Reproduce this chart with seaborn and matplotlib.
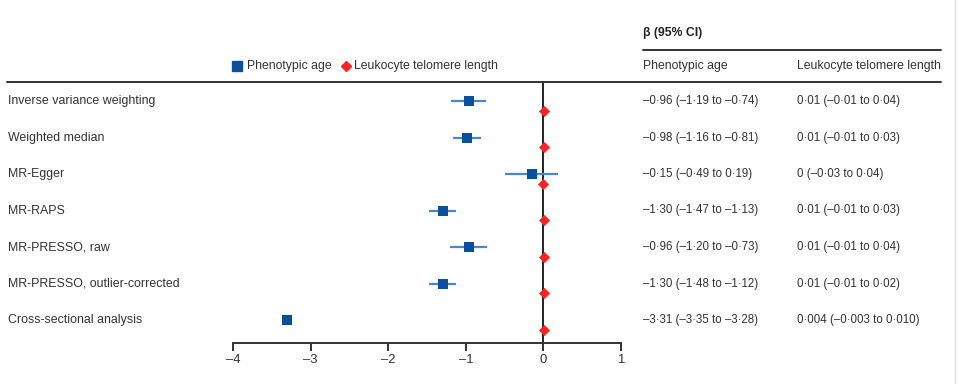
import matplotlib
matplotlib.use("Agg")
import matplotlib.pyplot as plt
import seaborn as sns
import pandas as pd
import numpy as np

methods = ["Inverse variance weighting", "Weighted median", "MR-Egger", "MR-RAPS",
           "MR-PRESSO, raw", "MR-PRESSO, outlier-corrected", "Cross-sectional analysis"]
pheno_est = [-0.96, -0.98, -0.15, -1.30, -0.96, -1.30, -3.31]
pheno_lo = [-1.19, -1.16, -0.49, -1.47, -1.20, -1.48, -3.35]
pheno_hi = [-0.74, -0.81, 0.19, -1.13, -0.73, -1.12, -3.28]
telo_est = [0.01, 0.01, 0.0, 0.01, 0.01, 0.01, 0.004]
telo_lo = [-0.01, -0.01, -0.03, -0.01, -0.01, -0.01, -0.003]
telo_hi = [0.04, 0.03, 0.04, 0.03, 0.04, 0.02, 0.010]
pheno_text = ["–0·96 (–1·19 to –0·74)", "–0·98 (–1·16 to –0·81)", "–0·15 (–0·49 to 0·19)",
              "–1·30 (–1·47 to –1·13)", "–0·96 (–1·20 to –0·73)", "–1·30 (–1·48 to –1·12)",
              "–3·31 (–3·35 to –3·28)"]
telo_text = ["0·01 (–0·01 to 0·04)", "0·01 (–0·01 to 0·03)", "0 (–0·03 to 0·04)",
             "0·01 (–0·01 to 0·03)", "0·01 (–0·01 to 0·04)", "0·01 (–0·01 to 0·02)",
             "0·004 (–0·003 to 0·010)"]
xticks = [-4, -3, -2, -1, 0, 1]

sns.set_style("white")
plt.rcParams["font.family"] = ["Liberation Sans", "DejaVu Sans"]
FS_VAL = 8.3
FS_HEAD = 8.8
FS_ROW = 8.9
TXT = "#333333"

W, H = 959, 384
fig = plt.figure(figsize=(W / 100, H / 100), dpi=100)
# axes: x -4 at px 233, 1 at px 621; top px 82, bottom px 343
ax = fig.add_axes([233 / W, (H - 343) / H, (621 - 233) / W, (343 - 82) / H])

n = len(methods)
ypos = np.arange(n)
off = 0.27
ax.set_xlim(-4, 1)
ax.set_ylim((343 - 101) / 36.5, -(101 - 82) / 36.5)

blue = "#0a4f9c"
lblue = "#4a86c8"
red = "#ff2222"

ax.hlines(ypos, pheno_lo, pheno_hi, color=lblue, lw=1.6, zorder=2)
ax.hlines(ypos + off, telo_lo, telo_hi, color=red, lw=1.2, zorder=2)
ax.axvline(0, color="#222222", lw=1.4, zorder=1)

df_p = pd.DataFrame({"x": pheno_est, "y": ypos})
df_t = pd.DataFrame({"x": telo_est, "y": ypos + off})
sns.scatterplot(data=df_p, x="x", y="y", color=blue, marker="s", s=58, linewidth=0,
                ax=ax, zorder=3, legend=False)
sns.scatterplot(data=df_t, x="x", y="y", color=red, marker="D", s=32, linewidth=0,
                ax=ax, zorder=3, legend=False)

ax.set_xlabel("")
ax.set_ylabel("")
ax.set_yticks([])
ax.set_xticks(xticks)
ax.set_xticklabels([f"–{abs(t)}" if t < 0 else f"{t}" for t in xticks], fontsize=FS_HEAD + 0.6, color=TXT)
for s in ["top", "left", "right"]:
    ax.spines[s].set_visible(False)
ax.spines["bottom"].set_color("#333333")
ax.spines["bottom"].set_linewidth(1.4)
ax.tick_params(axis="x", direction="out", length=6, width=1.4, color="#333333", pad=2, bottom=True)


def fy(py):
    return (H - py) / H


for i, m in enumerate(methods):
    py = 101 + 36.5 * i
    fig.text(8 / W, fy(py), m, fontsize=FS_ROW, color=TXT, va="center", ha="left")
    fig.text(643 / W, fy(py), pheno_text[i], fontsize=FS_VAL, color=TXT, va="center", ha="left")
    fig.text(797 / W, fy(py), telo_text[i], fontsize=FS_VAL, color=TXT, va="center", ha="left")

fig.text(643 / W, fy(33), "β (95% CI)", fontsize=FS_HEAD, color="#222222", va="center", ha="left",
         fontweight="bold")
fig.text(643 / W, fy(66), "Phenotypic age", fontsize=FS_HEAD, color=TXT, va="center", ha="left")
fig.text(797 / W, fy(66), "Leukocyte telomere length", fontsize=FS_HEAD, color=TXT, va="center", ha="left")

# legend
fig.text(247 / W, fy(66), "Phenotypic age", fontsize=FS_HEAD, color=TXT, va="center", ha="left")
fig.text(354 / W, fy(66), "Leukocyte telomere length", fontsize=FS_HEAD, color=TXT, va="center", ha="left")
fig.lines.append(plt.Line2D([237 / W], [fy(66)], marker="s", color=blue, ms=6.5, ls="none",
                            transform=fig.transFigure))
fig.lines.append(plt.Line2D([346 / W], [fy(66)], marker="D", color=red, ms=5, ls="none",
                            transform=fig.transFigure))

# rules
fig.lines.append(plt.Line2D([7 / W, 941 / W], [fy(82), fy(82)], color="#333333", lw=1.4,
                            transform=fig.transFigure))
fig.lines.append(plt.Line2D([643 / W, 941 / W], [fy(50), fy(50)], color="#333333", lw=1.4,
                            transform=fig.transFigure))
fig.lines.append(plt.Line2D([955 / W, 955 / W], [0, 1], color="#dddddd", lw=1,
                            transform=fig.transFigure))

fig.savefig("out.png", dpi=100)
